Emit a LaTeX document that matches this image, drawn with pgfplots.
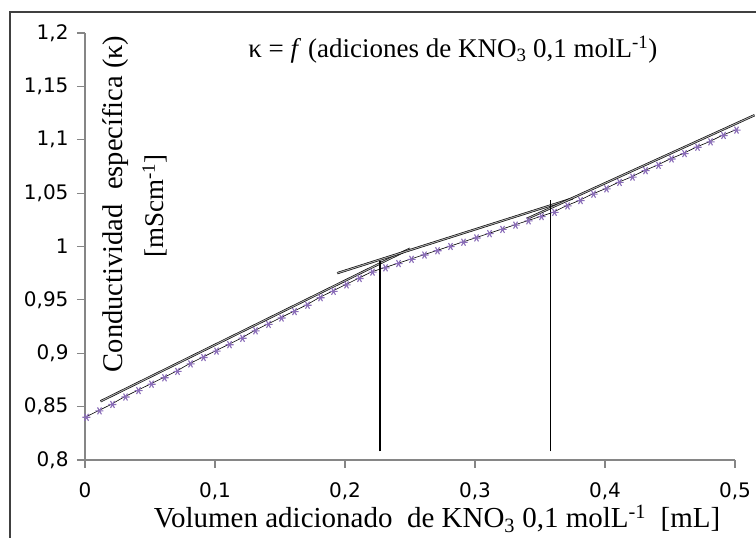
\documentclass[border=0pt]{standalone}
\usepackage{fontspec}
\setmainfont{Liberation Serif}
\newfontfamily\tickfont{DejaVu Sans}
\usepackage{pgfplots}
\pgfplotsset{compat=1.18}
\definecolor{axgray}{HTML}{868686}
\definecolor{mkpurple}{HTML}{8A6DB8}
\begin{document}
\begin{tikzpicture}[x=1bp,y=1bp]
\path[use as bounding box] (-85,-78) rectangle (671,460);
\draw[line width=1.6bp, black!75] (-75,-120) rectangle (700,448);
\begin{axis}[
  name=ax, at={(0,0)}, anchor=south west,
  scale only axis, width=650bp, height=427bp,
  xmin=0, xmax=0.5, ymin=0.8, ymax=1.2,
  axis x line=bottom, axis y line=left,
  axis line style={axgray, line width=1.2bp, -},
  xtick={0,0.1,0.2,0.3,0.4,0.5},
  ytick={0.8,0.85,0.9,0.95,1,1.05,1.1,1.15,1.2},
  tick align=outside, major tick length=8bp,
  tick style={axgray, line width=1.2bp},
  /pgf/number format/use comma,
  /pgf/number format/assume math mode=true,
  tick label style={font=\fontsize{20bp}{22bp}\tickfont, black},
  xticklabel style={yshift=-11bp},
  yticklabel style={xshift=-5bp},
  clip=false,
]
% data
\addplot[black, line width=0.6bp, mark=asterisk, mark size=4bp,
  mark options={mkpurple, line width=1.1bp, rotate=90, yshift=-1.5bp}] coordinates {
(0.00,0.840) (0.01,0.846) (0.02,0.852) (0.03,0.859) (0.04,0.865)
(0.05,0.871) (0.06,0.877) (0.07,0.883) (0.08,0.890) (0.09,0.896)
(0.10,0.902) (0.11,0.908) (0.12,0.914) (0.13,0.921) (0.14,0.927)
(0.15,0.933) (0.16,0.939) (0.17,0.945) (0.18,0.952) (0.19,0.958)
(0.20,0.964) (0.21,0.970) (0.22,0.976) (0.23,0.980) (0.24,0.984)
(0.25,0.988) (0.26,0.992) (0.27,0.996) (0.28,1.000) (0.29,1.004)
(0.30,1.008) (0.31,1.012) (0.32,1.016) (0.33,1.020) (0.34,1.024)
(0.35,1.028) (0.36,1.032) (0.37,1.038) (0.38,1.043) (0.39,1.049)
(0.40,1.054) (0.41,1.060) (0.42,1.065) (0.43,1.071) (0.44,1.076)
(0.45,1.082) (0.46,1.087) (0.47,1.093) (0.48,1.098) (0.49,1.104)
(0.50,1.109)};
% trend lines
\addplot[black, line width=0.6bp, double=black!35, double distance=1bp] coordinates {(0.012,0.855) (0.25,0.998)};
\addplot[black, line width=0.6bp, double=black!35, double distance=1bp] coordinates {(0.194,0.975) (0.375,1.045)};
\addplot[black, line width=0.6bp, double=black!35, double distance=1bp] coordinates {(0.34,1.026) (0.515,1.123)};
% vertical markers
\addplot[black, line width=1.5bp] coordinates {(0.227,0.808) (0.227,0.986)};
\addplot[black, line width=1.5bp] coordinates {(0.358,0.808) (0.358,1.044)};
% texts
\node[font=\fontsize{27bp}{30bp}\selectfont] at (axis cs:0.283,1.1846)
  {κ = \textit{f} (adiciones de KNO\textsubscript{3} 0,1 molL\textsuperscript{-1})};
\node[font=\fontsize{28.5bp}{31bp}\selectfont, rotate=90] at (axis cs:0.0231,1.040)
  {Conductividad~ específica (κ)};
\node[font=\fontsize{27bp}{30bp}\selectfont, rotate=90] at (axis cs:0.0538,1.038)
  {[mScm\textsuperscript{-1}]};
\node[font=\fontsize{29bp}{32bp}\selectfont] at (axis cs:0.2708,0.7445)
  {Volumen adicionado~ de KNO\textsubscript{3} 0,1 molL\textsuperscript{-1}~ [mL]};
\end{axis}
\end{tikzpicture}
\end{document}
